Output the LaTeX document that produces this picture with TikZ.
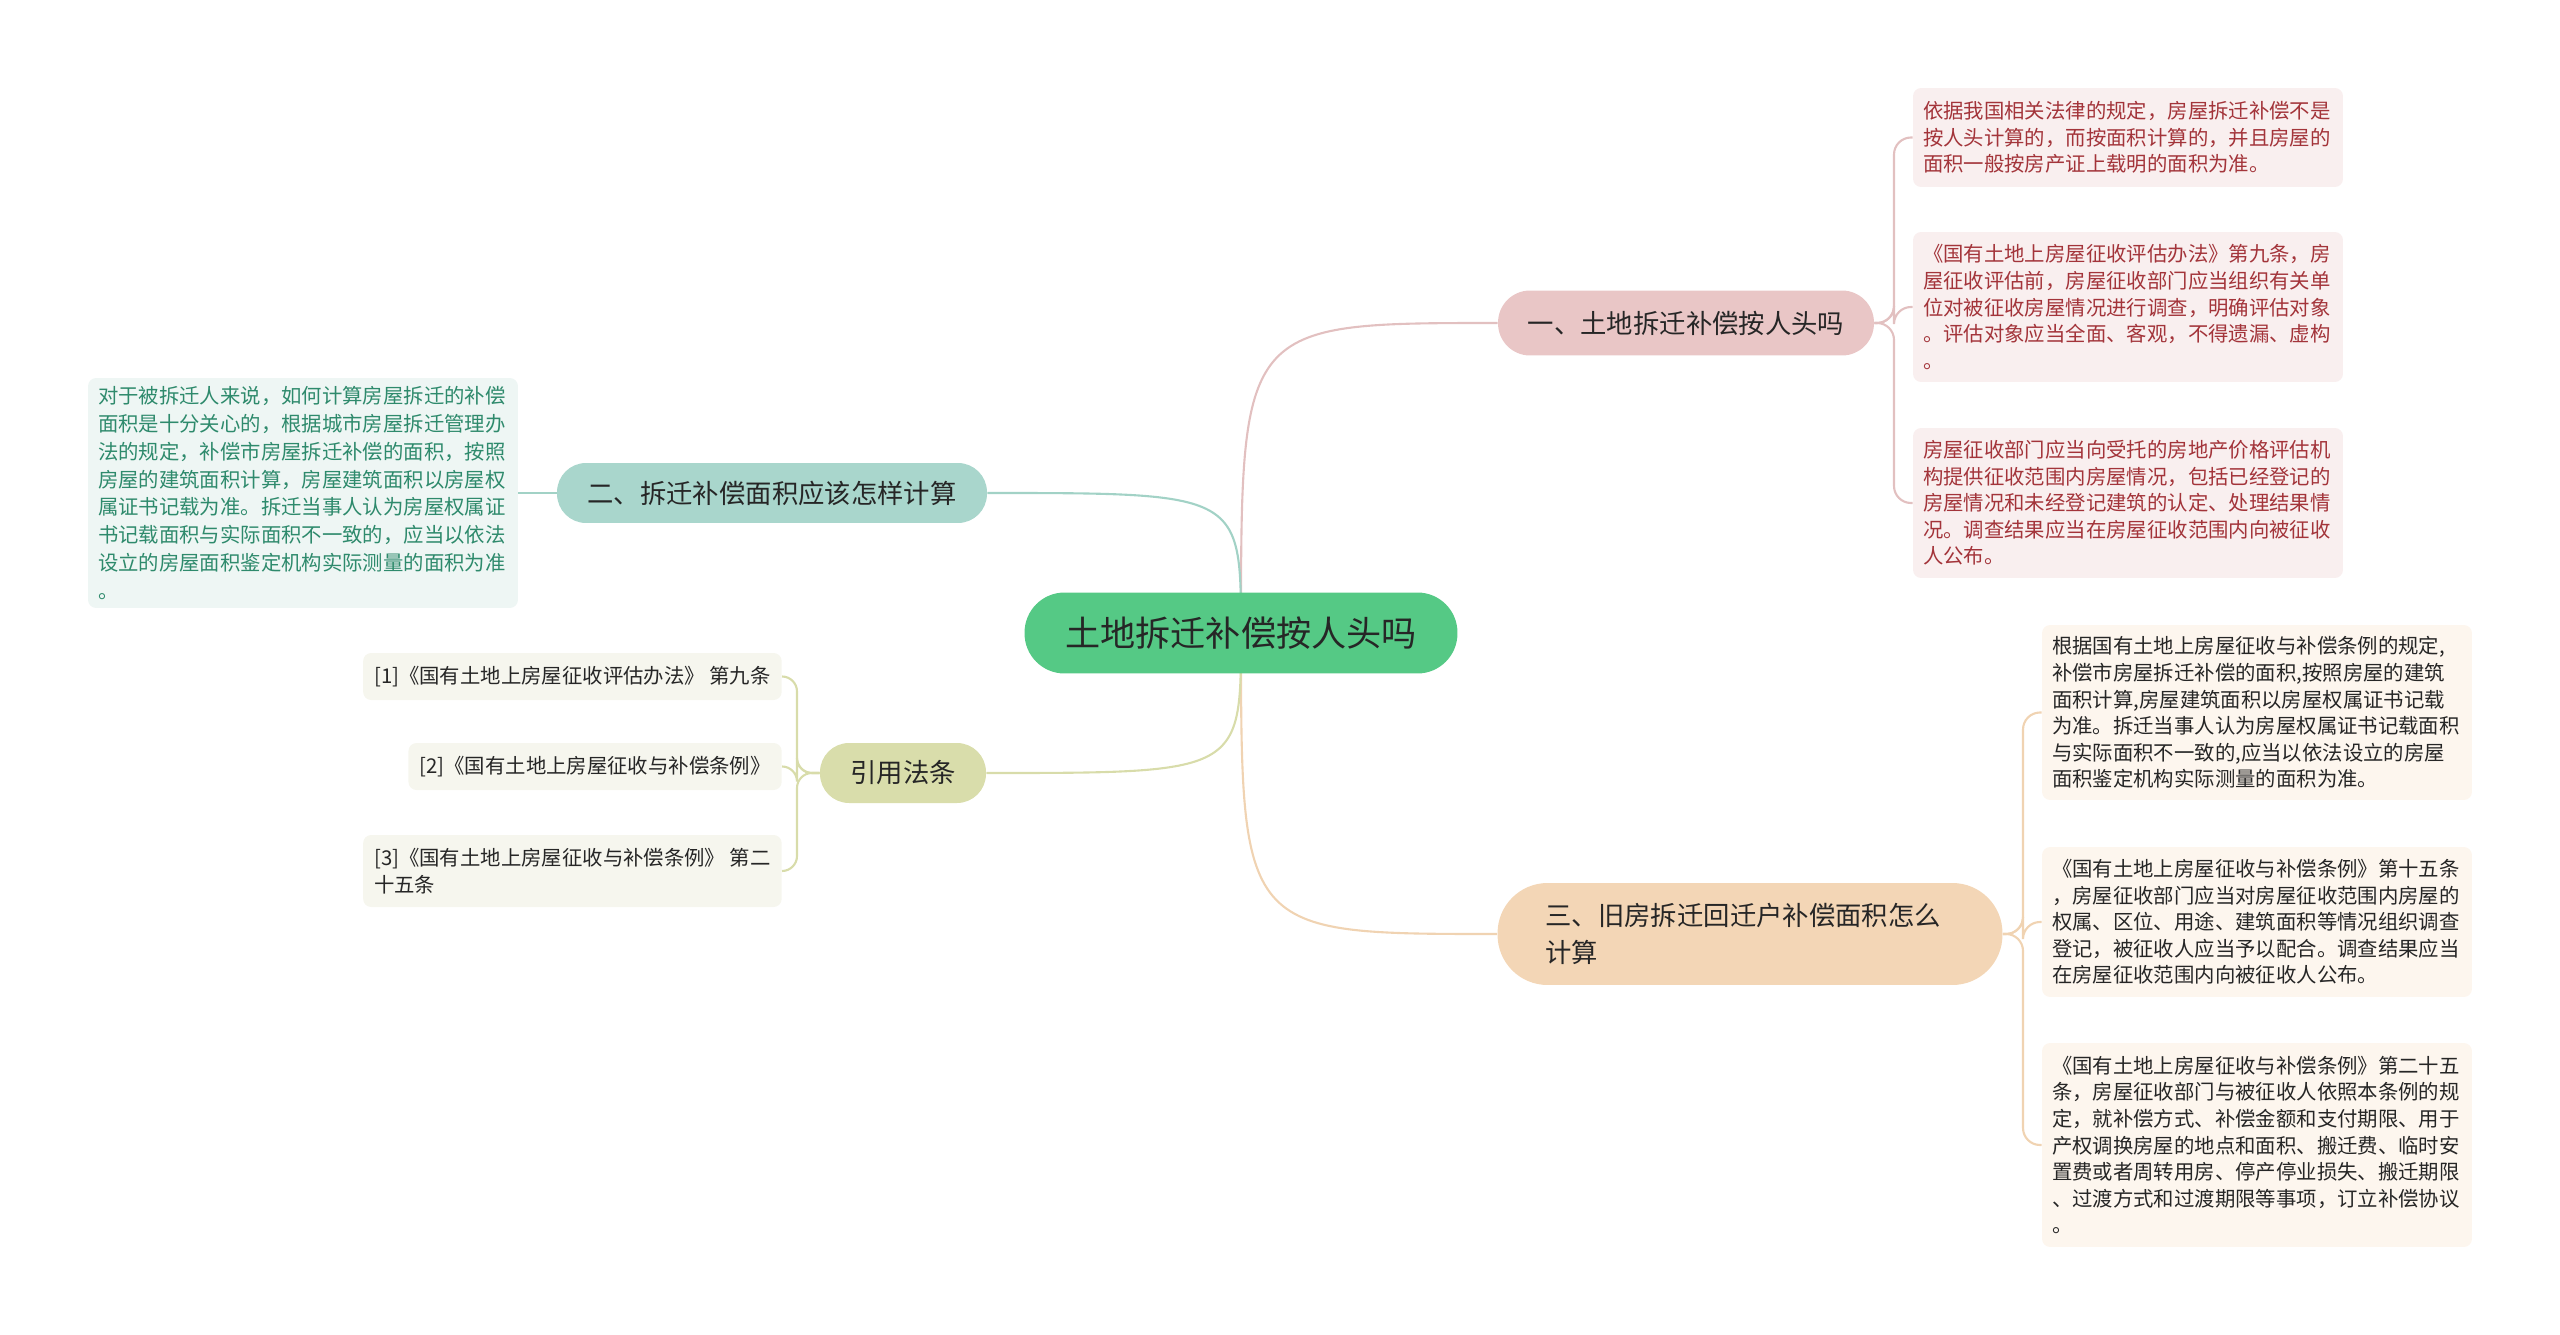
\documentclass[tikz,border=0pt]{standalone}
\usepackage{fontspec}
\setmainfont{Noto Sans CJK SC}
\pgfdeclarelayer{background}
\pgfsetlayers{background,main}

\definecolor{rootgreen}{HTML}{55C985}
\definecolor{textdark}{HTML}{262626}
\definecolor{pinkfill}{HTML}{E9C6C6}
\definecolor{pinkline}{HTML}{E2C0C0}
\definecolor{pinkleaf}{HTML}{F9EFEF}
\definecolor{pinktext}{HTML}{A3343A}
\definecolor{tealfill}{HTML}{A9D6CC}
\definecolor{tealline}{HTML}{A2D2C6}
\definecolor{tealleaf}{HTML}{EEF6F4}
\definecolor{tealtext}{HTML}{2E8A6C}
\definecolor{sandfill}{HTML}{F3D6B6}
\definecolor{sandline}{HTML}{F0D3B2}
\definecolor{sandleaf}{HTML}{FDF6EE}
\definecolor{olivefill}{HTML}{D9DDAB}
\definecolor{oliveline}{HTML}{D8DCAA}
\definecolor{oliveleaf}{HTML}{F6F6EE}

\tikzset{
  rootbox/.style={fill=rootgreen, text=textdark, rounded corners=0.8cm,
    minimum width=8.66cm, minimum height=1.62cm,
    font=\fontsize{20}{24}\selectfont},
  topic/.style={text=textdark, rounded corners=0.58cm, minimum height=1.2cm,
    font=\fontsize{15}{21.3}\selectfont},
  leaf/.style={rounded corners=0.16cm, inner xsep=0.2cm, inner ysep=0.1cm,
    align=left, text width=8.2cm, font=\fontsize{11.6}{15.1}\selectfont},
  refleaf/.style={fill=oliveleaf, text=textdark, rounded corners=0.16cm,
    inner xsep=0.22cm, align=left, anchor=east, minimum height=0.94cm,
    font=\fontsize{11.6}{15.1}\selectfont},
  link/.style={line width=1.2pt},
}

\begin{document}
\begin{tikzpicture}[x=0.02cm, y=-0.02cm]
  \useasboundingbox (0,0) rectangle (2560,1335);

  % centre
  \node[rootbox] (root) at (1241,633) {土地拆迁补偿按人头吗};

  % four topics
  \node[topic, fill=pinkfill, minimum width=7.52cm, minimum height=1.3cm,
    rounded corners=0.64cm] (t1) at (1686,323) {一、土地拆迁补偿按人头吗};
  \node[topic, fill=tealfill, minimum width=8.6cm] (t2) at (772,493) {二、拆迁补偿面积应该怎样计算};
  \node[topic, fill=sandfill, rounded corners=1cm, minimum height=2.04cm,
    text width=8.18cm, inner xsep=0.96cm, align=left] (t3) at (1750,934)
    {三、旧房拆迁回迁户补偿面积怎么\\计算};
  \node[topic, fill=olivefill, minimum width=3.32cm] (t4) at (903,773) {引用法条};

  % leaves of topic one
  \node[leaf, fill=pinkleaf, text=pinktext, minimum height=1.98cm] (p1) at (2128,137.5)
    {依据我国相关法律的规定，房屋拆迁补偿不是\\按人头计算的，而按面积计算的，并且房屋的\\面积一般按房产证上载明的面积为准。};
  \node[leaf, fill=pinkleaf, text=pinktext, minimum height=3cm] (p2) at (2128,307)
    {《国有土地上房屋征收评估办法》第九条，房\\屋征收评估前，房屋征收部门应当组织有关单\\位对被征收房屋情况进行调查，明确评估对象\\。评估对象应当全面、客观，不得遗漏、虚构\\。};
  \node[leaf, fill=pinkleaf, text=pinktext, minimum height=3cm] (p3) at (2128,503)
    {房屋征收部门应当向受托的房地产价格评估机\\构提供征收范围内房屋情况，包括已经登记的\\房屋情况和未经登记建筑的认定、处理结果情\\况。调查结果应当在房屋征收范围内向被征收\\人公布。};

  % leaf of topic two
  \node[leaf, fill=tealleaf, text=tealtext, minimum height=4.6cm,
    font=\fontsize{11.6}{15.9}\selectfont] (g1) at (303,493)
    {对于被拆迁人来说，如何计算房屋拆迁的补偿\\面积是十分关心的，根据城市房屋拆迁管理办\\法的规定，补偿市房屋拆迁补偿的面积，按照\\房屋的建筑面积计算，房屋建筑面积以房屋权\\属证书记载为准。拆迁当事人认为房屋权属证\\书记载面积与实际面积不一致的，应当以依法\\设立的房屋面积鉴定机构实际测量的面积为准\\。};

  % leaves of topic three
  \node[leaf, fill=sandleaf, text=textdark, minimum height=3.5cm] (s1) at (2257,712.5)
    {根据国有土地上房屋征收与补偿条例的规定,\\补偿市房屋拆迁补偿的面积,按照房屋的建筑\\面积计算,房屋建筑面积以房屋权属证书记载\\为准。拆迁当事人认为房屋权属证书记载面积\\与实际面积不一致的,应当以依法设立的房屋\\面积鉴定机构实际测量的面积为准。};
  \node[leaf, fill=sandleaf, text=textdark, minimum height=3cm] (s2) at (2257,922)
    {《国有土地上房屋征收与补偿条例》第十五条\\，房屋征收部门应当对房屋征收范围内房屋的\\权属、区位、用途、建筑面积等情况组织调查\\登记，被征收人应当予以配合。调查结果应当\\在房屋征收范围内向被征收人公布。};
  \node[leaf, fill=sandleaf, text=textdark, minimum height=4.08cm] (s3) at (2257,1145)
    {《国有土地上房屋征收与补偿条例》第二十五\\条，房屋征收部门与被征收人依照本条例的规\\定，就补偿方式、补偿金额和支付期限、用于\\产权调换房屋的地点和面积、搬迁费、临时安\\置费或者周转用房、停产停业损失、搬迁期限\\、过渡方式和过渡期限等事项，订立补偿协议\\。};

  % references
  \node[refleaf] (r1) at (782,676.5) {[1]《国有土地上房屋征收评估办法》 第九条};
  \node[refleaf] (r2) at (782,766.5) {[2]《国有土地上房屋征收与补偿条例》};
  \node[refleaf, minimum height=1.44cm] (r3) at (782,871) {[3]《国有土地上房屋征收与补偿条例》 第二\\十五条};

  \begin{pgfonlayer}{background}
    % centre to topics
    \draw[link, pinkline] (root.center) .. controls (1241,323) .. (t1.west);
    \draw[link, tealline] (root.center) .. controls (1241,493) .. (t2.east);
    \draw[link, sandline] (root.center) .. controls (1241,934) .. (t3.west);
    \draw[link, oliveline] (root.center) .. controls (1241,773) .. (t4.east);
    % topics to leaves
    \foreach \leafname in {p1,p2,p3}
      \draw[link, pinkline, rounded corners=0.34cm] (t1.east) -- (1894,323) |- (\leafname.west);
    \draw[link, tealline] (t2.west) -- (g1.east);
    \foreach \leafname in {s1,s2,s3}
      \draw[link, sandline, rounded corners=0.34cm] (t3.east) -- (2023,934) |- (\leafname.west);
    \foreach \leafname in {r1,r2,r3}
      \draw[link, oliveline, rounded corners=0.3cm] (t4.west) -- (797,773) |- (\leafname.east);
  \end{pgfonlayer}
\end{tikzpicture}
\end{document}
